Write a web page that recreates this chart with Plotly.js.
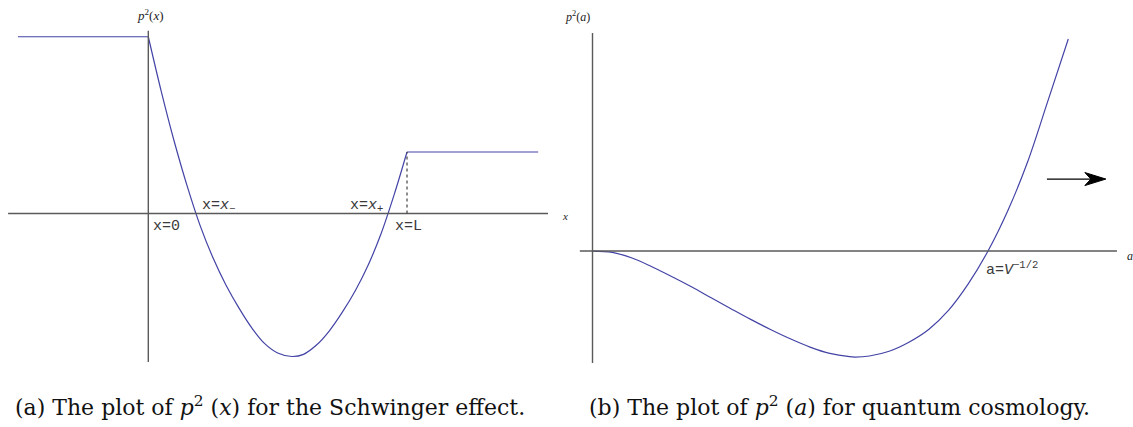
<!DOCTYPE html>
<html>
<head>
<meta charset="utf-8">
<script src="https://cdn.plot.ly/plotly-3.0.1.min.js"></script>
<style>
  html, body { margin: 0; padding: 0; background: #fff; }
  #chart { width: 1133px; height: 427px; }
</style>
</head>
<body>
<div id="chart"></div>
<script>
// Panel (a): p^2(x) for the Schwinger effect (x in units of L, p^2 scaled so the well bottom is -1)
const leftPlateauX = [-0.504, 0];
const leftPlateauY = [1.236, 1.236];
const wellX = [0, 0.05, 0.10, 0.15, 0.20, 0.25, 0.30, 0.35, 0.40, 0.45, 0.50, 0.5555, 0.60, 0.65, 0.70, 0.75, 0.80, 0.85, 0.90, 0.95, 1.0];
const wellY = [1.236, 0.854, 0.505, 0.193, -0.083, -0.31, -0.50, -0.66, -0.80, -0.91, -0.975, -1.0, -0.985, -0.92, -0.82, -0.69, -0.54, -0.36, -0.14, 0.13, 0.43];
const rightPlateauX = [1.0, 1.507];
const rightPlateauY = [0.43, 0.43];
const xAxisExtent = [-0.542, 1.545];
const pAxisExtentA = [-1.038, 1.278];

// Panel (b): p^2(a) for quantum cosmology (a in units of V^{-1/2})
const aVals = [0, 0.05, 0.10, 0.15, 0.20, 0.25, 0.30, 0.35, 0.40, 0.45, 0.50, 0.55, 0.60, 0.65, 0.664, 0.70, 0.75, 0.80, 0.85, 0.90, 0.95, 1.0, 1.05, 1.10, 1.15, 1.203];
const pVals = [0, -0.012, -0.066, -0.148, -0.24, -0.337, -0.441, -0.544, -0.645, -0.740, -0.828, -0.906, -0.966, -0.997, -1.0, -0.99, -0.945, -0.86, -0.74, -0.56, -0.31, 0, 0.38, 0.84, 1.40, 2.0];
const aAxisExtent = [-0.032, 1.326];
const pAxisExtentB = [-1.057, 2.057];
const arrowFromTo = [1.149, 1.298];
const arrowLevel = 0.679;

const curveColor = '#4343a6';
const axisColor = '#5a5a5a';

const traces = [
  {x: leftPlateauX, y: leftPlateauY, xaxis: 'x', yaxis: 'y', mode: 'lines',
   line: {color: curveColor, width: 1.2}, hoverinfo: 'skip'},
  {x: wellX, y: wellY, xaxis: 'x', yaxis: 'y', mode: 'lines',
   line: {color: curveColor, width: 1.2, shape: 'spline', smoothing: 1}, hoverinfo: 'skip'},
  {x: rightPlateauX, y: rightPlateauY, xaxis: 'x', yaxis: 'y', mode: 'lines',
   line: {color: curveColor, width: 1.2}, hoverinfo: 'skip'},
  {x: aVals, y: pVals, xaxis: 'x2', yaxis: 'y2', mode: 'lines',
   line: {color: curveColor, width: 1.2, shape: 'spline', smoothing: 1}, hoverinfo: 'skip'}
];

function bareAxis(extra) {
  return Object.assign({
    showgrid: false, zeroline: false, showline: false,
    showticklabels: false, ticks: '', fixedrange: true
  }, extra);
}

const shapes = [
  // panel (a) axes
  {type: 'line', xref: 'x', yref: 'y', x0: xAxisExtent[0], x1: xAxisExtent[1], y0: 0, y1: 0,
   line: {color: axisColor, width: 1.4}},
  {type: 'line', xref: 'x', yref: 'y', x0: 0, x1: 0, y0: pAxisExtentA[0], y1: pAxisExtentA[1],
   line: {color: axisColor, width: 1.4}},
  // dotted drop line at x = L
  {type: 'line', xref: 'x', yref: 'y', x0: rightPlateauX[0], x1: rightPlateauX[0], y0: 0, y1: rightPlateauY[0],
   line: {color: '#444', width: 1.2, dash: 'dot'}},
  // panel (b) axes
  {type: 'line', xref: 'x2', yref: 'y2', x0: aAxisExtent[0], x1: aAxisExtent[1], y0: 0, y1: 0,
   line: {color: axisColor, width: 1.4}},
  {type: 'line', xref: 'x2', yref: 'y2', x0: 0, x1: 0, y0: pAxisExtentB[0], y1: pAxisExtentB[1],
   line: {color: axisColor, width: 1.4}},
  // arrow shaft
  {type: 'line', xref: 'x2', yref: 'y2', x0: arrowFromTo[0], x1: arrowFromTo[1] - 0.03, y0: arrowLevel, y1: arrowLevel,
   line: {color: '#000', width: 1.3}},
  // arrow head (pixel-sized, anchored at the tip)
  {type: 'path', xref: 'x2', yref: 'y2', xsizemode: 'pixel', ysizemode: 'pixel',
   xanchor: arrowFromTo[1], yanchor: arrowLevel,
   path: 'M0,0 L-21,6.5 L-15,0 L-21,-6.5 Z',
   fillcolor: '#000', line: {color: '#000', width: 1}}
];

const serif = 'Liberation Serif, Times New Roman, serif';
const capSerif = 'DejaVu Serif, serif';
const mono = 'Liberation Mono, DejaVu Sans Mono, monospace';
const labelColor = '#3a3a3a';

function note(xref, yref, x, y, text, opts) {
  return Object.assign({xref: xref, yref: yref, x: x, y: y, text: text, showarrow: false,
    xanchor: 'left', yanchor: 'middle', font: {family: mono, size: 15, color: labelColor}}, opts || {});
}

const annotations = [
  note('x', 'y', 0.007, 1.388, '<i>p</i><sup>2</sup>(<i>x</i>)',
       {xanchor: 'center', font: {family: serif, size: 13, color: '#222'}}),
  note('x', 'y', 1.591, -0.017, '<i>x</i>', {font: {family: serif, size: 11, color: '#222'}}),
  note('x', 'y', 0.012, -0.09, 'x=0'),
  note('x', 'y', 0.198, 0.055, 'x=<i>x</i><sub>−</sub>'),
  note('x', 'y', 0.77, 0.055, 'x=<i>x</i><sub>+</sub>'),
  note('x', 'y', 0.945, -0.09, 'x=L'),
  note('x2', 'y2', -0.039, 2.217, '<i>p</i><sup>2</sup>(<i>a</i>)',
       {xanchor: 'center', font: {family: serif, size: 12, color: '#222'}}),
  note('x2', 'y2', 1.3465, -0.047, '<i>a</i>', {font: {family: serif, size: 12, color: '#222'}}),
  note('x2', 'y2', 0.99, -0.17, 'a=<i>V</i><sup>−1/2</sup>'),
  note('paper', 'paper', 0.238, 0.049, '(a) The plot of <i>p</i><sup>2</sup> (<i>x</i>) for the Schwinger effect.',
       {xanchor: 'center', font: {family: capSerif, size: 22, color: '#111'}}),
  note('paper', 'paper', 0.741, 0.049, '(b) The plot of <i>p</i><sup>2</sup> (<i>a</i>) for quantum cosmology.',
       {xanchor: 'center', font: {family: capSerif, size: 22, color: '#111'}})
];

const layout = {
  width: 1133, height: 427,
  margin: {l: 0, r: 0, t: 0, b: 0},
  paper_bgcolor: '#fff', plot_bgcolor: 'rgba(0,0,0,0)',
  showlegend: false,
  xaxis: bareAxis({domain: [0, 0.51192], range: [-0.5733, 1.6687]}),
  yaxis: bareAxis({domain: [0, 1], range: [-1.493, 1.493]}),
  xaxis2: bareAxis({domain: [0.48544, 1], range: [-0.10746, 1.3666], anchor: 'y2'}),
  yaxis2: bareAxis({domain: [0, 1], range: [-1.660, 2.368], anchor: 'x2'}),
  shapes: shapes,
  annotations: annotations
};

Plotly.newPlot('chart', traces, layout, {staticPlot: true, displayModeBar: false});
</script>
</body>
</html>
